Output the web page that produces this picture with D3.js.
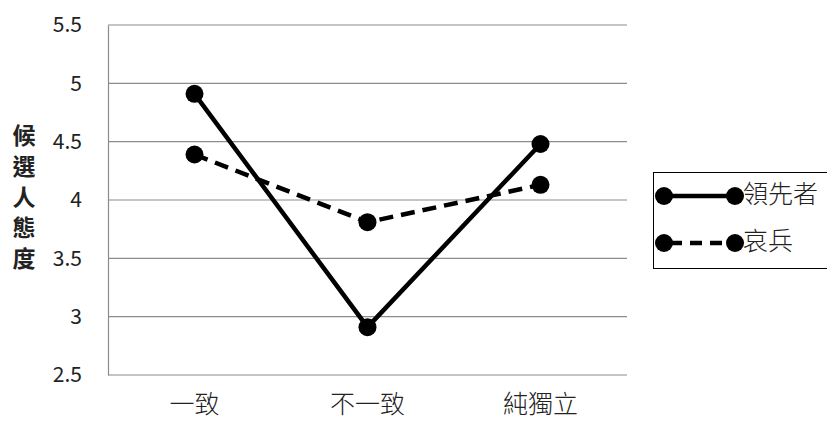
<!DOCTYPE html>
<html><head><meta charset="utf-8">
<script src="https://cdn.jsdelivr.net/npm/d3@7"></script>
<style>body{margin:0;background:#fff}svg{display:block}</style>
</head><body>
<svg id="c" width="827" height="423"></svg>
<script>
const categories = ["一致", "不一致", "純獨立"];
const leaderValues = [4.91, 2.91, 4.48];
const underdogValues = [4.39, 3.81, 4.13];
const seriesNames = ["領先者", "哀兵"];
const yTicks = [2.5, 3, 3.5, 4, 4.5, 5, 5.5];
const yTitle = ["候", "選", "人", "態", "度"];

const svg = d3.select("#c");
const font = "'Noto Sans CJK TC', 'Noto Sans', sans-serif";
const L = 108, R = 627, T = 25, B = 375;

const x = d3.scaleBand().domain(categories).range([L, R]);
const y = d3.scaleLinear().domain([2.5, 5.5]).range([B, T]);

// gridlines
svg.append("g").selectAll("line").data(yTicks).join("line")
  .attr("x1", L).attr("x2", R).attr("y1", d => y(d)).attr("y2", d => y(d))
  .attr("stroke", "#8c8c8c").attr("stroke-width", 1.2);

// y axis
const ya = svg.append("g").attr("transform", `translate(${L},0)`)
  .call(d3.axisLeft(y).tickValues(yTicks).tickSize(0).tickPadding(26).tickFormat(d3.format("")));
ya.select(".domain").attr("stroke", "#8c8c8c").attr("stroke-width", 1.2);
ya.selectAll("text").attr("font-family", font).attr("font-size", 21).attr("fill", "#222");

// x axis
const xa = svg.append("g").attr("transform", `translate(0,${B})`)
  .call(d3.axisBottom(x).tickSize(0).tickPadding(20));
xa.select(".domain").remove();
xa.selectAll("text").attr("font-family", font).attr("font-size", 25).attr("font-weight", 300).attr("fill", "#222");

// y title: one text element, stacked characters
const yt = svg.append("text")
  .attr("font-family", font).attr("font-size", 23).attr("font-weight", "bold").attr("fill", "#222")
  .attr("text-anchor", "middle");
yt.selectAll("tspan").data(yTitle).join("tspan")
  .attr("x", 24).attr("y", (d, i) => 144 + i * 30.8)
  .text(d => d);

const series = [
  {name: seriesNames[0], values: leaderValues, dash: null},
  {name: seriesNames[1], values: underdogValues, dash: "14,8"}
];
const line = d3.line().x((d, i) => x(categories[i]) + x.bandwidth() / 2).y(d => y(d));

series.forEach(s => {
  svg.append("path").attr("d", line(s.values)).attr("fill", "none")
    .attr("stroke", "#000").attr("stroke-width", 4.5)
    .attr("stroke-dasharray", s.dash);
  svg.append("g").selectAll("circle").data(s.values).join("circle")
    .attr("cx", (d, i) => x(categories[i]) + x.bandwidth() / 2).attr("cy", d => y(d))
    .attr("r", 9).attr("fill", "#000");
});

// legend
const lg = svg.append("g");
lg.append("rect").attr("x", 653.5).attr("y", 172.5).attr("width", 180).attr("height", 96)
  .attr("fill", "#fff").attr("stroke", "#000").attr("stroke-width", 1);
series.forEach((s, i) => {
  const ly = 196 + i * 47;
  lg.append("line").attr("x1", 664).attr("x2", 735).attr("y1", ly).attr("y2", ly)
    .attr("stroke", "#000").attr("stroke-width", 4.5).attr("stroke-dasharray", s.dash ? "12,8" : null)
    .attr("stroke-dashoffset", s.dash ? -6 : 0);
  lg.append("circle").attr("cx", 664).attr("cy", ly).attr("r", 9).attr("fill", "#000");
  lg.append("circle").attr("cx", 735).attr("cy", ly).attr("r", 9).attr("fill", "#000");
  lg.append("text").attr("x", 743).attr("y", ly).attr("dominant-baseline", "middle")
    .attr("font-family", font).attr("font-size", 25).attr("font-weight", 300).attr("fill", "#222").text(s.name);
});
</script>
</body></html>
